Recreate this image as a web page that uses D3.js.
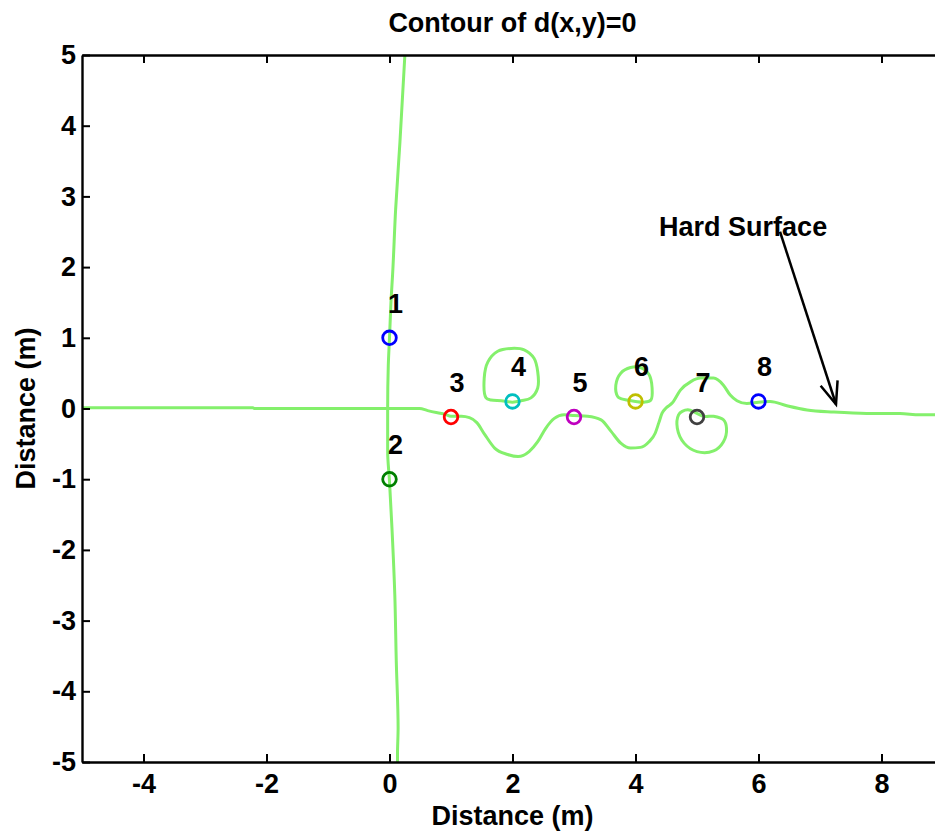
<!DOCTYPE html>
<html>
<head>
<meta charset="utf-8">
<script src="https://cdn.jsdelivr.net/npm/d3@7"></script>
<style>
  html, body { margin: 0; padding: 0; background: #fff; }
  svg { display: block; }
  text { font-family: "Liberation Sans", Arial, sans-serif; font-weight: bold; }
</style>
</head>
<body>
<div id="chart"></div>
<script>
// Contour d(x,y)=0, [x, y] in metres
const verticalLine = [
    [0.13, -5.0], [0.13, -4.89], [0.14, -4.52], [0.11, -3.57], [0.086, -2.63],
    [0.04, -1.69], [0.0, -1.03], [-0.03, -0.6], [-0.03, 0.0], [-0.02, 0.6],
    [0.0, 1.0], [0.03, 1.6], [0.05, 1.89], [0.10, 2.82], [0.17, 3.77], [0.25, 5.0]
];

const surfaceLine = [
    [-5, 0.01], [-2.22, 0.01], [-2.2, 0.0], [0.3, 0.0], [0.49, 0.0], [0.62, -0.03],
    [0.78, -0.06], [0.9, -0.08], [1.0, -0.11], [1.17, -0.11], [1.3, -0.13], [1.42, -0.2],
    [1.55, -0.37], [1.71, -0.56], [1.92, -0.65], [2.09, -0.68], [2.27, -0.61], [2.41, -0.47],
    [2.54, -0.28], [2.68, -0.14], [2.84, -0.09], [3.0, -0.1], [3.22, -0.11], [3.44, -0.16],
    [3.6, -0.32], [3.76, -0.49], [3.92, -0.56], [4.08, -0.55], [4.22, -0.47], [4.32, -0.35],
    [4.38, -0.2], [4.43, -0.07], [4.5, 0.01], [4.6, 0.08], [4.73, 0.26], [4.9, 0.38], [5.06, 0.43],
    [5.27, 0.43], [5.43, 0.33], [5.54, 0.19], [5.65, 0.11], [5.81, 0.07], [6.0, 0.09],
    [6.19, 0.10], [6.46, 0.04], [6.79, -0.02], [7.22, -0.05], [7.76, -0.07], [8.3, -0.07],
    [8.62, -0.09], [9.0, -0.09]
];

const loop4 = [
    [1.57, 0.15], [1.54, 0.43], [1.60, 0.66], [1.76, 0.81], [1.98, 0.85], [2.19, 0.83],
    [2.35, 0.71], [2.41, 0.52], [2.41, 0.29], [2.30, 0.15], [2.14, 0.11], [2.0, 0.09],
    [1.82, 0.11], [1.65, 0.12]
];

const loop6 = [
    [3.71, 0.17], [3.68, 0.33], [3.76, 0.50], [3.92, 0.58], [4.08, 0.58], [4.22, 0.48],
    [4.27, 0.29], [4.25, 0.12], [4.14, 0.09], [4.0, 0.10], [3.87, 0.12], [3.76, 0.14]
];

const loop7 = [
    [4.70, -0.09], [4.68, -0.28], [4.79, -0.49], [5.0, -0.61], [5.27, -0.60], [5.43, -0.47],
    [5.48, -0.28], [5.43, -0.16], [5.27, -0.11], [5.11, -0.11], [4.87, -0.02], [4.76, -0.04]
];

// Numbered receiver points
const pointX = [0, 0, 1, 2, 3, 4, 5, 6];
const pointY = [1, -1, -0.12, 0.1, -0.12, 0.1, -0.12, 0.1];
const pointLabels = ["1", "2", "3", "4", "5", "6", "7", "8"];
const pointColors = ["#0000ff", "#008000", "#ff0000", "#00bfbf", "#bf00bf", "#bfbf00", "#404040", "#0000ff"];

// Axis ticks
const xTicks = [-4, -2, 0, 2, 4, 6, 8];
const yTicks = [-5, -4, -3, -2, -1, 0, 1, 2, 3, 4, 5];

// Annotation (data units)
const noteText = "Hard Surface";
const notePos = [5.75, 2.58];
const arrowFrom = [6.35, 2.5];
const arrowTo = [7.26, 0.06];

function draw() {
    const W = 935, H = 832;
    const left = 82, right = 943, top = 55, bottom = 762;

    const svg = d3.select("#chart").append("svg")
        .attr("width", W)
        .attr("height", H);

    const x = d3.scaleLinear().domain([-5, 9]).range([left, right]);
    const y = d3.scaleLinear().domain([-5, 5]).range([bottom, top]);

    svg.append("defs").append("clipPath")
        .attr("id", "plot-clip")
        .append("rect")
        .attr("x", left).attr("y", top)
        .attr("width", right - left).attr("height", bottom - top);

    const plot = svg.append("g").attr("clip-path", "url(#plot-clip)");

    const lineY = d3.line()
        .x(d => x(d[0]))
        .y(d => y(d[1]))
        .curve(d3.curveMonotoneY);
    const lineX = d3.line()
        .x(d => x(d[0]))
        .y(d => y(d[1]))
        .curve(d3.curveMonotoneX);
    const closedLine = d3.line()
        .x(d => x(d[0]))
        .y(d => y(d[1]))
        .curve(d3.curveCatmullRomClosed);

    const green = "#84f06c";
    const lw = 3;
    plot.append("path")
        .datum(verticalLine)
        .attr("fill", "none")
        .attr("stroke", green)
        .attr("stroke-width", lw)
        .attr("d", lineY);
    plot.append("path")
        .datum(surfaceLine)
        .attr("fill", "none")
        .attr("stroke", green)
        .attr("stroke-width", lw)
        .attr("d", lineX);
    [loop4, loop6, loop7].forEach(pts => {
        plot.append("path")
            .datum(pts)
            .attr("fill", "none")
            .attr("stroke", green)
            .attr("stroke-width", lw)
            .attr("d", closedLine);
    });

    // Markers + numbers
    const pts = pointX.map((v, i) => ({ x: v, y: pointY[i], label: pointLabels[i], color: pointColors[i] }));
    plot.selectAll("circle.pt")
        .data(pts)
        .join("circle")
        .attr("class", "pt")
        .attr("cx", d => x(d.x))
        .attr("cy", d => y(d.y))
        .attr("r", 6.8)
        .attr("fill", "none")
        .attr("stroke", d => d.color)
        .attr("stroke-width", 2.8);

    svg.selectAll("text.pt-label")
        .data(pts)
        .join("text")
        .attr("class", "pt-label")
        .attr("x", d => x(d.x) + 6)
        .attr("y", d => y(d.y) - 25)
        .attr("text-anchor", "middle")
        .style("font-size", "27px")
        .text(d => d.label);

    // Annotation arrow
    const ax0 = x(arrowFrom[0]), ay0 = y(arrowFrom[1]);
    const ax1 = x(arrowTo[0]), ay1 = y(arrowTo[1]);
    svg.append("line")
        .attr("x1", ax0).attr("y1", ay0)
        .attr("x2", ax1).attr("y2", ay1)
        .attr("stroke", "#000")
        .attr("stroke-width", 2.5);
    const ang = Math.atan2(ay1 - ay0, ax1 - ax0);
    const headLen = 24, headAng = 0.38;
    const head = [
        [ax1 - headLen * Math.cos(ang - headAng), ay1 - headLen * Math.sin(ang - headAng)],
        [ax1, ay1],
        [ax1 - headLen * Math.cos(ang + headAng), ay1 - headLen * Math.sin(ang + headAng)]
    ];
    svg.append("path")
        .attr("d", d3.line()(head))
        .attr("fill", "none")
        .attr("stroke", "#000")
        .attr("stroke-width", 2.5);

    svg.append("text")
        .attr("x", x(notePos[0]))
        .attr("y", y(notePos[1]) + 10)
        .attr("text-anchor", "middle")
        .style("font-size", "27px")
        .text(noteText);

    // Axes: ticks point inwards, box on all four sides
    const axisStyle = g => {
        g.select(".domain").attr("stroke", "#000").attr("stroke-width", 2.4);
        g.selectAll(".tick line").attr("stroke", "#000").attr("stroke-width", 2);
        g.selectAll(".tick text")
            .attr("fill", "#000")
            .style("font-size", "27px")
            .style("font-family", "'Liberation Sans', Arial, sans-serif")
            .style("font-weight", "bold");
    };
    const plain = d => String(d);

    svg.append("g")
        .attr("transform", `translate(0,${bottom})`)
        .call(d3.axisBottom(x).tickValues(xTicks).tickFormat(plain).tickSizeInner(-8).tickSizeOuter(0).tickPadding(12))
        .call(axisStyle);
    svg.append("g")
        .attr("transform", `translate(0,${top})`)
        .call(d3.axisTop(x).tickValues(xTicks).tickSizeInner(-8).tickSizeOuter(0).tickFormat(""))
        .call(axisStyle);
    svg.append("g")
        .attr("transform", `translate(${left},0)`)
        .call(d3.axisLeft(y).tickValues(yTicks).tickFormat(plain).tickSizeInner(-8).tickSizeOuter(0).tickPadding(6))
        .call(axisStyle);
    svg.append("g")
        .attr("transform", `translate(${right},0)`)
        .call(d3.axisRight(y).tickValues(yTicks).tickSizeInner(-8).tickSizeOuter(0).tickFormat(""))
        .call(axisStyle);

    // Titles
    svg.append("text")
        .attr("x", (left + right) / 2)
        .attr("y", 32)
        .attr("text-anchor", "middle")
        .style("font-size", "27px")
        .text("Contour of d(x,y)=0");

    svg.append("text")
        .attr("x", (left + right) / 2)
        .attr("y", 825)
        .attr("text-anchor", "middle")
        .style("font-size", "27px")
        .text("Distance (m)");

    svg.append("text")
        .attr("transform", `translate(35,${(top + bottom) / 2}) rotate(-90)`)
        .attr("text-anchor", "middle")
        .style("font-size", "27px")
        .text("Distance (m)");
}

draw();
</script>
</body>
</html>
